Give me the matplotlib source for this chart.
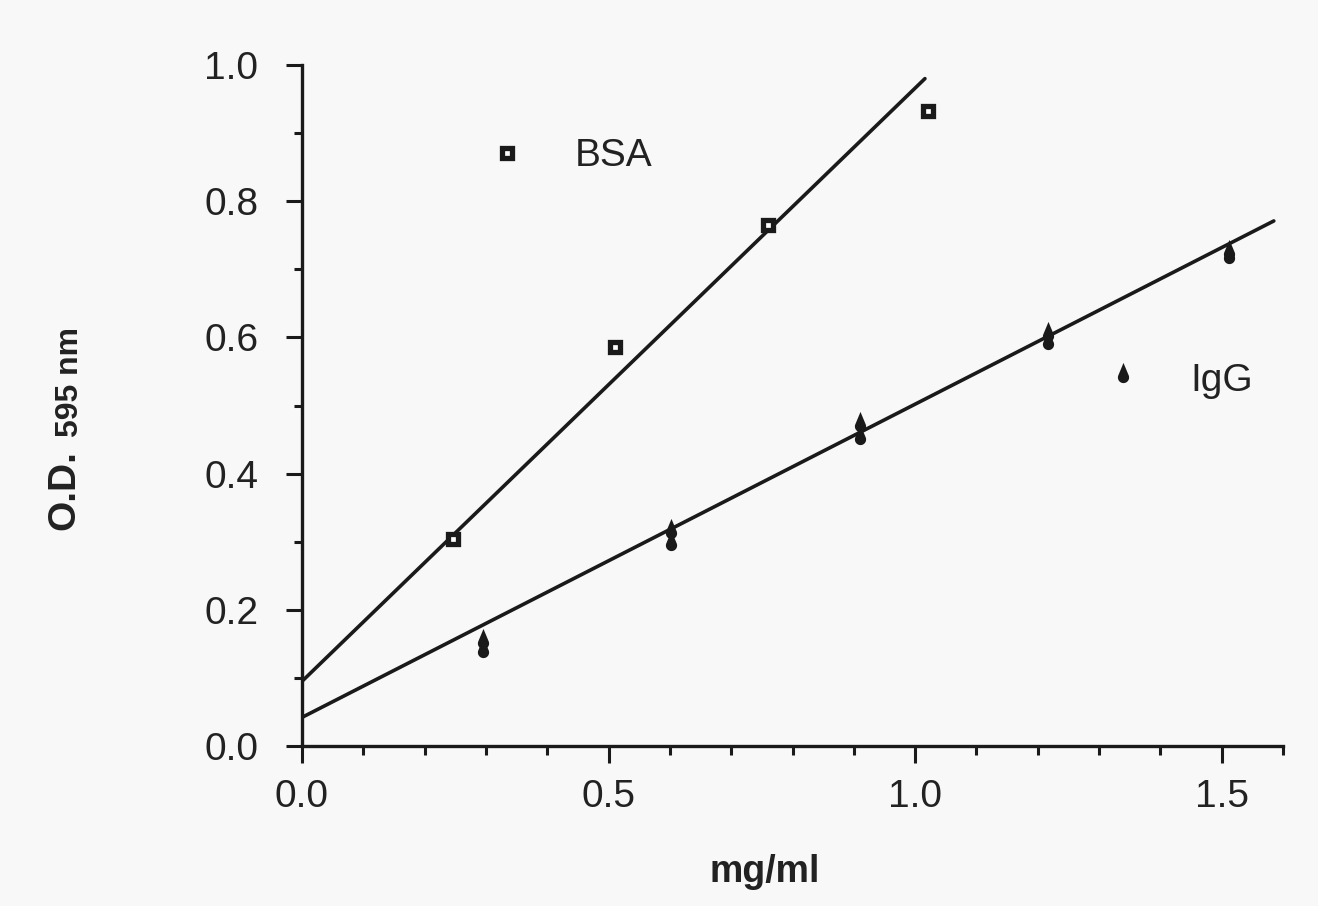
import numpy as np
import matplotlib
matplotlib.use("Agg")
import matplotlib.pyplot as plt
from matplotlib.path import Path
from matplotlib.lines import Line2D

# ---- data ----
bsa_x = [0.246, 0.510, 0.760, 1.021]
bsa_y = [0.304, 0.586, 0.765, 0.932]

igg_x = [0.295, 0.295, 0.602, 0.602, 0.910, 0.910, 1.216, 1.216, 1.512, 1.512]
igg_y = [0.151, 0.138, 0.313, 0.295, 0.470, 0.451, 0.602, 0.590, 0.722, 0.717]

bsa_fit_x = [0.0, 1.016]
bsa_fit_y = [0.095, 0.980]
igg_fit_x = [0.0, 1.585]
igg_fit_y = [0.042, 0.771]

x_ticks = [0.0, 0.5, 1.0, 1.5]
x_tick_labels = ["0.0", "0.5", "1.0", "1.5"]
y_ticks = [0.0, 0.2, 0.4, 0.6, 0.8, 1.0]
y_tick_labels = ["0.0", "0.2", "0.4", "0.6", "0.8", "1.0"]

plt.rcParams['font.family'] = ['Liberation Sans', 'DejaVu Sans']

# teardrop marker (circle centred on the data point, pointed top)
a0 = np.deg2rad(23)
th = np.linspace(a0, np.pi - a0 - 2 * np.pi, 40)
verts = [(0.0, 1.3)] + [(0.5 * np.cos(t), 0.5 * np.sin(t)) for t in th] + [(0.0, 1.3)]
codes = [Path.MOVETO] + [Path.LINETO] * (len(verts) - 2) + [Path.CLOSEPOLY]
drop = Path(verts, codes)

ink = '#1a1a1a'
bg = '#f8f8f8'

fig = plt.figure(figsize=(13.18, 9.06), dpi=100, facecolor=bg)
ax = fig.add_axes([302 / 1318, 1 - 746 / 906, 981 / 1318, 681 / 906])
ax.set_facecolor(bg)

ax.plot(bsa_fit_x, bsa_fit_y, color=ink, lw=2.6, solid_capstyle='round', zorder=2)
ax.plot(igg_fit_x, igg_fit_y, color=ink, lw=2.6, solid_capstyle='round', zorder=2)

ax.plot(bsa_x, bsa_y, ls='none', marker='s', ms=7, mew=3.8, mfc='white', mec=ink, zorder=3)
ax.plot(igg_x, igg_y, ls='none', marker=drop, ms=21, mew=0, mfc=ink, zorder=3)

ax.set_xlim(0, 1.6)
ax.set_ylim(0, 1.0)

for s in ['top', 'right']:
    ax.spines[s].set_visible(False)
for s in ['left', 'bottom']:
    ax.spines[s].set_linewidth(2.4)
    ax.spines[s].set_color(ink)

ax.set_xticks(x_ticks)
ax.set_xticklabels(x_tick_labels)
ax.set_yticks(y_ticks)
ax.set_yticklabels(y_tick_labels)
ax.set_xticks(np.arange(0, 1.61, 0.1), minor=True)
ax.set_yticks(np.arange(0, 1.01, 0.1), minor=True)

ax.tick_params(axis='x', which='major', length=12, width=2.2, color=ink, pad=12,
               labelsize=28, labelcolor='#222222')
ax.tick_params(axis='x', which='minor', length=6.5, width=2.2, color=ink)
ax.tick_params(axis='y', which='major', length=11.5, width=2.2, color=ink, pad=20,
               labelsize=28, labelcolor='#222222')
ax.tick_params(axis='y', which='minor', length=5.8, width=2.2, color=ink)
ax.spines['left'].set_zorder(4)

# legend entries
h_bsa = Line2D([], [], ls='none', marker='s', ms=7, mew=3.8, mfc='white', mec=ink)
h_igg = Line2D([], [], ls='none', marker=drop, ms=21, mew=0, mfc=ink)
leg1 = ax.legend([h_bsa], ['BSA'], loc='center left', bbox_to_anchor=(0.189, 0.866),
                 frameon=False, borderpad=0, borderaxespad=0, handlelength=1.0,
                 handletextpad=1.24, fontsize=28, labelcolor='#222222')
ax.add_artist(leg1)
ax.legend([h_igg], ['IgG'], loc='center left', bbox_to_anchor=(0.817, 0.536),
          frameon=False, borderpad=0, borderaxespad=0, handlelength=1.0,
          handletextpad=1.24, fontsize=28, labelcolor='#222222')

# axis labels
fig.text(765 / 1318, 1 - 882 / 906, 'mg/ml', ha='center', va='baseline',
         fontsize=27, fontweight='bold', color='#222222')
fig.text(74 / 1318, 1 - 530 / 906, 'O.D.', rotation=90, rotation_mode='anchor',
         ha='left', va='baseline', fontsize=28, fontweight='bold', color='#222222')
fig.text(78 / 1318, 1 - 437 / 906, '595 nm', rotation=90, rotation_mode='anchor',
         ha='left', va='baseline', fontsize=23, fontweight='bold', color='#222222')

fig.savefig('out.png', dpi=100, facecolor=bg)
